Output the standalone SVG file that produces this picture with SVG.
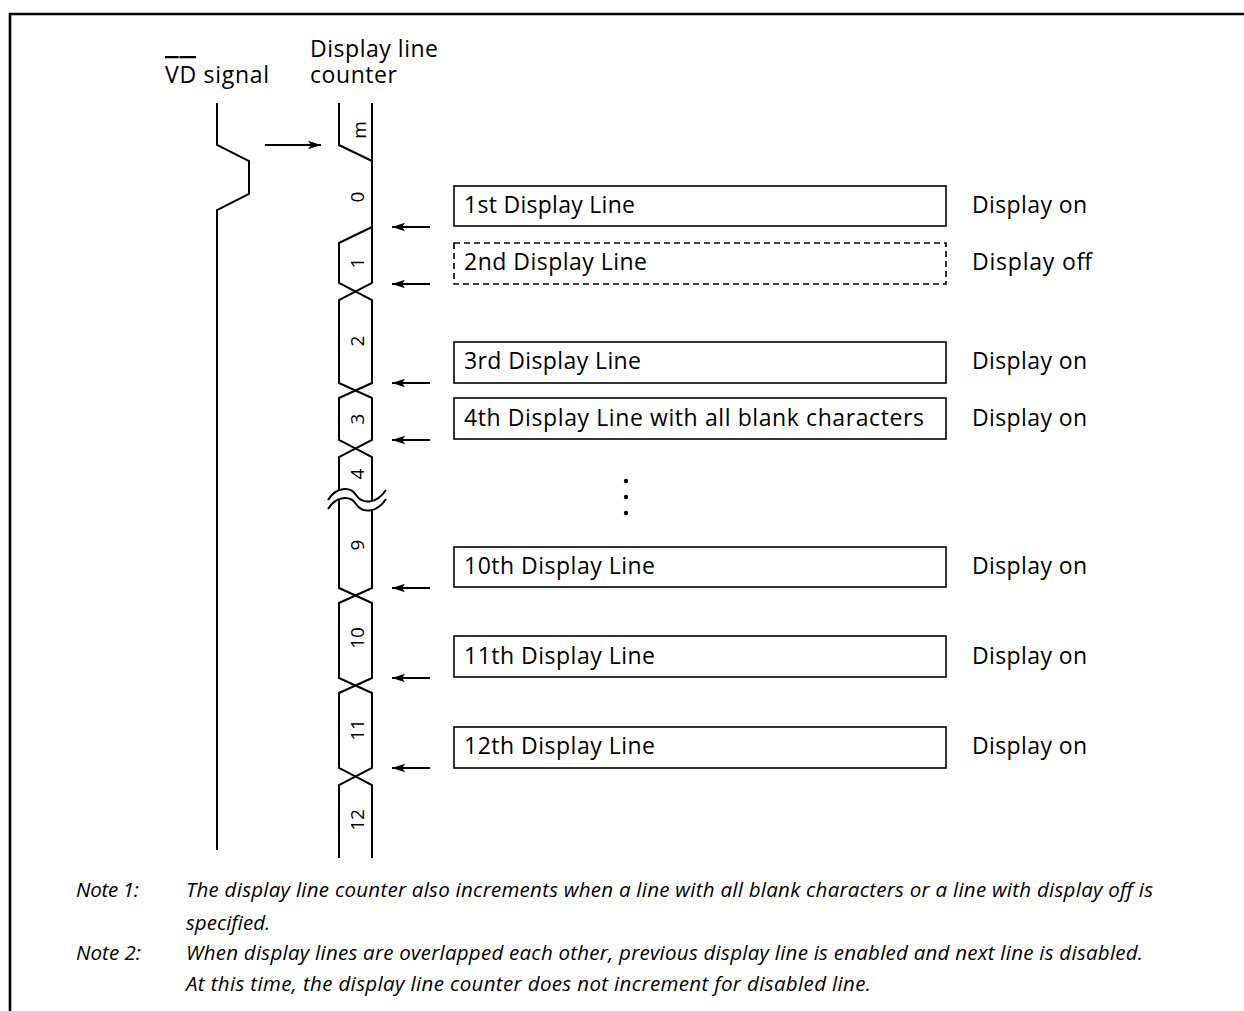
<svg xmlns="http://www.w3.org/2000/svg" width="1244" height="1011" viewBox="0 0 1244 1011">
<defs>
<marker id="ah" markerUnits="userSpaceOnUse" markerWidth="14" markerHeight="10" refX="13" refY="5" orient="auto">
<path d="M0,0.8 L13,5 L0,9.2 L3,5 Z" fill="#000"/>
</marker>
<style>
.ln{fill:none;stroke:#000;stroke-width:2}
.t{font-family:"Open Sans","Noto Sans",sans-serif;font-size:23px;fill:#000}
.lbl{font-family:"Open Sans","Noto Sans",sans-serif;font-size:19px;fill:#000;text-anchor:middle;dominant-baseline:central}
.box{fill:none;stroke:#000;stroke-width:1.6}
.dash{stroke-dasharray:6 4}
.arr{fill:none;stroke:#000;stroke-width:2;marker-end:url(#ah)}
.note{font-family:"Open Sans","Noto Sans",sans-serif;font-size:20.5px;font-style:italic;fill:#000}
</style>
</defs>
<rect width="1244" height="1011" fill="#fff"/>
<path d="M10,1011 V14 H1244" fill="none" stroke="#000" stroke-width="2.6"/>

<g id="vd-signal">
<text class="t" x="165" y="83" textLength="104"><tspan style="text-decoration:overline">VD</tspan> signal</text>
<path class="ln" d="M217,103 V145 L249,161 V194 L217,210 V850"/>
</g>

<g id="display-line-counter">
<text class="t" x="310" y="57" textLength="128">Display line</text>
<text class="t" x="310" y="83" textLength="87">counter</text>
<path class="ln" d="M372,103 V283 L339,300 V383 L372,398 V440 L339,457 V588 L372,603 V678 L339,693 V768 L372,785 V858"/>
<path class="ln" d="M339,103 V145 L372,161 M372,227 L339,243 V283 L372,300 V383 L339,398 V440 L372,457 V588 L339,603 V678 L372,693 V768 L339,785 V858"/>
<path d="M328,504.5 C336,491.5 350,490.5 356,499.5 C362,508.5 376,509.5 386,494.5" fill="none" stroke="#fff" stroke-width="9"/>
<path class="ln" d="M328,500 C336,487 350,486 356,495 C362,504 376,505 386,490"/>
<path class="ln" d="M328,509 C336,496 350,495 356,504 C362,513 376,514 386,499"/>
<text class="lbl" transform="translate(359,130) rotate(-90)">m</text>
<text class="lbl" transform="translate(357,197) rotate(-90)">0</text>
<text class="lbl" transform="translate(357,263) rotate(-90)">1</text>
<text class="lbl" transform="translate(357,341) rotate(-90)">2</text>
<text class="lbl" transform="translate(357,419) rotate(-90)">3</text>
<text class="lbl" transform="translate(357,474) rotate(-90)">4</text>
<text class="lbl" transform="translate(357,545) rotate(-90)">9</text>
<text class="lbl" transform="translate(357,638) rotate(-90)">10</text>
<text class="lbl" transform="translate(357,730) rotate(-90)">11</text>
<text class="lbl" transform="translate(357,820) rotate(-90)">12</text>
</g>

<g id="line1">
<rect class="box" x="454" y="186" width="492" height="40"/>
<text class="t" x="464" y="213" textLength="171">1st Display Line</text>
<text class="t" x="972" y="213" textLength="115">Display on</text>
</g>
<g id="line2">
<rect class="box dash" x="454" y="243" width="492" height="41"/>
<text class="t" x="464" y="270" textLength="183">2nd Display Line</text>
<text class="t" x="972" y="270" textLength="120">Display off</text>
</g>
<g id="line3">
<rect class="box" x="454" y="342" width="492" height="41"/>
<text class="t" x="464" y="369" textLength="177">3rd Display Line</text>
<text class="t" x="972" y="369" textLength="115">Display on</text>
</g>
<g id="line4">
<rect class="box" x="454" y="398" width="492" height="41"/>
<text class="t" x="464" y="426" textLength="460">4th Display Line with all blank characters</text>
<text class="t" x="972" y="426" textLength="115">Display on</text>
</g>
<g id="ellipsis">
<circle cx="626" cy="481" r="2.2"/>
<circle cx="626" cy="497" r="2.2"/>
<circle cx="626" cy="513" r="2.2"/>
</g>
<g id="line10">
<rect class="box" x="454" y="547" width="492" height="40"/>
<text class="t" x="464" y="574" textLength="191">10th Display Line</text>
<text class="t" x="972" y="574" textLength="115">Display on</text>
</g>
<g id="line11">
<rect class="box" x="454" y="636" width="492" height="41"/>
<text class="t" x="464" y="664" textLength="191">11th Display Line</text>
<text class="t" x="972" y="664" textLength="115">Display on</text>
</g>
<g id="line12">
<rect class="box" x="454" y="727" width="492" height="41"/>
<text class="t" x="464" y="754" textLength="191">12th Display Line</text>
<text class="t" x="972" y="754" textLength="115">Display on</text>
</g>

<g id="connectors">
<line class="arr" x1="265" y1="145" x2="321" y2="145"/>
<line class="arr" x1="430" y1="227" x2="392" y2="227"/>
<line class="arr" x1="430" y1="284" x2="392" y2="284"/>
<line class="arr" x1="430" y1="383" x2="392" y2="383"/>
<line class="arr" x1="430" y1="440" x2="392" y2="440"/>
<line class="arr" x1="430" y1="588" x2="392" y2="588"/>
<line class="arr" x1="430" y1="678" x2="392" y2="678"/>
<line class="arr" x1="430" y1="768" x2="392" y2="768"/>
</g>

<g id="notes">
<text class="note" x="76" y="897" textLength="63">Note 1:</text>
<text class="note" x="186" y="897" textLength="967">The display line counter also increments when a line with all blank characters or a line with display off is</text>
<text class="note" x="186" y="930">specified.</text>
<text class="note" x="76" y="960" textLength="65">Note 2:</text>
<text class="note" x="186" y="960" textLength="957">When display lines are overlapped each other, previous display line is enabled and next line is disabled.</text>
<text class="note" x="186" y="991" textLength="685">At this time, the display line counter does not increment for disabled line.</text>
</g>
</svg>
